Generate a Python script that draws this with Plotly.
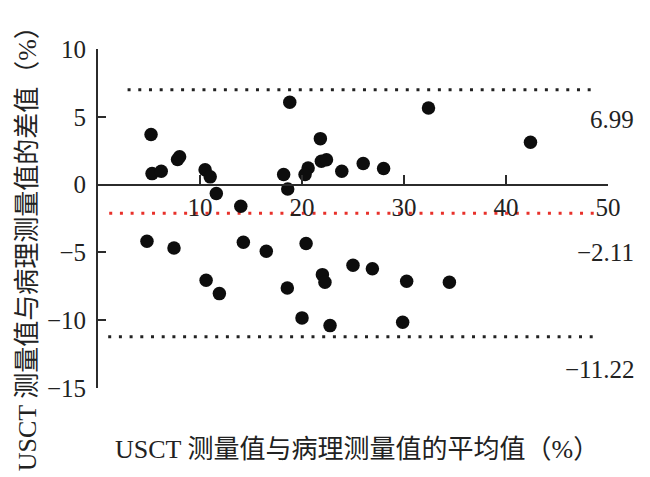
import plotly.graph_objects as go

# Bland-Altman data: mean (x) and difference (y), in %
mean_vals = [5.2, 5.3, 6.2, 7.8, 8.0, 10.5, 11.0, 11.6, 14.0, 18.8, 18.2, 18.6,
             21.8, 20.6, 20.3, 21.9, 22.4, 23.9, 26.0, 28.0, 32.4, 42.4,
             4.8, 7.45, 10.6, 11.9, 14.25, 16.5, 18.56, 20.4, 20.0, 22.0,
             22.25, 22.75, 25.0, 26.9, 30.26, 34.45, 29.87]
diff_vals = [3.69, 0.81, 0.98, 1.85, 2.05, 1.1, 0.57, -0.66, -1.6, 6.07, 0.74, -0.32,
             3.39, 1.23, 0.74, 1.72, 1.84, 0.98, 1.55, 1.18, 5.65, 3.12,
             -4.18, -4.67, -7.06, -8.04, -4.25, -4.92, -7.62, -4.35, -9.83, -6.64,
             -7.2, -10.4, -5.95, -6.2, -7.13, -7.2, -10.15]

upper_loa = 6.99
mean_diff = -2.11
lower_loa = -11.22
upper_span = [2.9, 49.0]
mean_span = [1.1, 48.9]
lower_span = [1.0, 49.2]

x_ticks = [10, 20, 30, 40, 50]
y_ticks = [10, 5, 0, -5, -10, -15]
y_ticktext = ["10", "5", "0", "\u22125", "\u221210", "\u221215"]

x_title = "USCT 测量值与病理测量值的平均值（%）"
y_title = "USCT 测量值与病理测量值的差值（%）"

FONT = "Liberation Serif, Times New Roman, Noto Sans CJK SC, serif"
AX = "#2b2b2b"

fig = go.Figure()
dot_dash = "3px,7.7px"
fig.add_trace(go.Scatter(x=upper_span, y=[upper_loa, upper_loa], mode="lines",
                         line=dict(color="#222222", width=3, dash=dot_dash),
                         hoverinfo="skip", showlegend=False))
fig.add_trace(go.Scatter(x=mean_span, y=[mean_diff, mean_diff], mode="lines",
                         line=dict(color="#e8302a", width=3, dash=dot_dash),
                         hoverinfo="skip", showlegend=False))
fig.add_trace(go.Scatter(x=lower_span, y=[lower_loa, lower_loa], mode="lines",
                         line=dict(color="#222222", width=3, dash=dot_dash),
                         hoverinfo="skip", showlegend=False))
fig.add_trace(go.Scatter(x=mean_vals, y=diff_vals, mode="markers",
                         marker=dict(color="#0d0d0d", size=13.5),
                         showlegend=False))

fig.update_layout(
    width=650, height=477,
    margin=dict(l=90, r=50, t=41, b=97),
    paper_bgcolor="white", plot_bgcolor="white",
    font=dict(family=FONT, size=25, color="#222222"),
    xaxis=dict(range=[0, 50], tickvals=x_ticks, ticks="inside", ticklen=9,
               tickwidth=2, tickcolor=AX, showline=True, linecolor=AX,
               linewidth=2, showgrid=False, zeroline=False,
               anchor="free", position=0.6, ticklabelstandoff=0,
               tickfont=dict(size=25, family=FONT)),
    yaxis=dict(range=[-15, 10], tickvals=y_ticks, ticktext=y_ticktext,
               ticks="inside", ticklen=8, tickwidth=2, tickcolor=AX,
               showline=True, linecolor=AX, linewidth=2, showgrid=False,
               zeroline=False, ticklabelstandoff=5,
               tickfont=dict(size=25, family=FONT)),
    annotations=[
        dict(text=x_title, xref="paper", yref="paper", x=0.508, y=-0.18,
             xanchor="center", yanchor="middle",
             showarrow=False, font=dict(size=26, family=FONT)),
        dict(text=y_title, xref="paper", yref="paper", x=-0.139, y=0.43,
             xanchor="center", yanchor="middle",
             textangle=-90, showarrow=False, font=dict(size=26, family=FONT)),
        dict(text="6.99", xref="paper", yref="y", x=1.055, y=4.8,
             xanchor="right", yanchor="middle",
             showarrow=False, font=dict(size=25, family=FONT)),
        dict(text="\u22122.11", xref="paper", yref="y", x=1.055, y=-5.0,
             xanchor="right", yanchor="middle",
             showarrow=False, font=dict(size=25, family=FONT)),
        dict(text="\u221211.22", xref="paper", yref="y", x=1.055, y=-13.6,
             xanchor="right", yanchor="middle",
             showarrow=False, font=dict(size=25, family=FONT)),
    ],
)

fig.write_html("out.html")
